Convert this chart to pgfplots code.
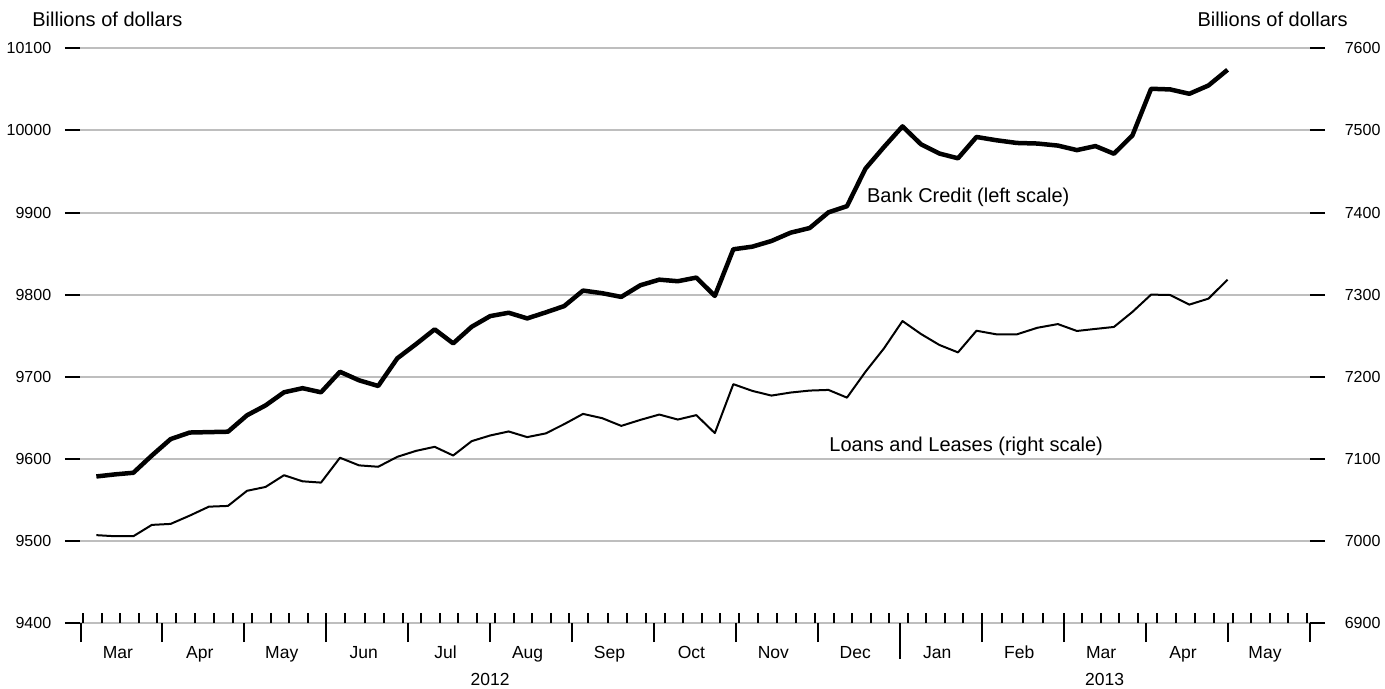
\documentclass[border=0pt]{standalone}
\usepackage{pgfplots}
\pgfplotsset{compat=1.18}
\usepackage{fontspec}
\setmainfont{Liberation Sans}
\definecolor{gridgray}{RGB}{190,190,190}
\begin{document}
\begin{tikzpicture}
\useasboundingbox (-40.25bp,-33bp) rectangle (652.25bp,311.5bp);
\pgfplotsset{base/.style={at={(0,0)},anchor=south west,scale only axis,
  width=614.5bp,height=287.35bp,xmin=0,xmax=15,
  axis line style={draw=none},tick style={black,line width=1bp},
  scaled ticks=false,
  /pgf/number format/assume math mode=true,/pgf/number format/1000 sep={},
  tick label style={font=\fontsize{8bp}{9.6bp}\selectfont}}}
% Bank Credit, left scale
\begin{axis}[base,ymin=9400,ymax=10100,ytick={9400,9500,...,10100},
  ytick pos=left,yticklabel pos=left,xtick=\empty,tick align=outside,
  major tick length=7.85bp,ymajorgrids,
  grid style={draw=gridgray,line width=1bp},
  yticklabel style={xshift=-3.3bp}]
\addplot[black,line width=2.25bp,line join=round] table[row sep=\\] {
x y\\
0.1935 9578.5\\ 0.4194 9581\\ 0.6452 9583\\ 0.8710 9604\\
1.1 9624\\ 1.3333 9632\\ 1.5667 9632.5\\ 1.8 9633\\
2.0323 9653\\ 2.2581 9665\\ 2.4839 9681\\ 2.7097 9686\\ 2.9355 9681\\
3.1667 9706\\ 3.4 9695.6\\ 3.6333 9688.7\\ 3.8667 9722.4\\
4.0968 9739.8\\ 4.3226 9757.7\\ 4.5484 9740.6\\ 4.7742 9760.8\\
5.0 9773.8\\ 5.2258 9777.9\\ 5.4516 9771\\ 5.6774 9778.3\\ 5.9032 9786\\
6.1333 9804.9\\ 6.3667 9801.7\\ 6.6 9797.2\\ 6.8333 9811.4\\
7.0645 9818.2\\ 7.2903 9816.3\\ 7.5161 9820.7\\ 7.7419 9798.4\\ 7.9677 9855.2\\
8.2 9858.4\\ 8.4333 9865.3\\ 8.6667 9875.4\\ 8.9 9881.1\\
9.1290 9900.2\\ 9.3548 9907.7\\ 9.5806 9953.5\\ 9.8065 9979.8\\
10.0323 10004.9\\ 10.2581 9983.1\\ 10.4839 9971.8\\ 10.7097 9966\\ 10.9355 9992\\
11.1786 9988\\ 11.4286 9984.7\\ 11.6786 9984\\ 11.9286 9981.5\\
12.1613 9976\\ 12.3871 9980.9\\ 12.6129 9971.6\\ 12.8387 9993.9\\
13.0667 10050.7\\ 13.3 10049.9\\ 13.5333 10044.6\\ 13.7667 10054.7\\
14.0 10073.8\\
};
\node[anchor=base west,font=\fontsize{10bp}{12bp}\selectfont,inner sep=0pt] at (axis cs:9.596,9912.3) {Bank Credit (left scale)};
\end{axis}
% Loans and Leases, right scale
\begin{axis}[base,ymin=6900,ymax=7600,ytick={6900,7000,...,7600},
  ytick pos=right,yticklabel pos=right,xtick=\empty,tick align=outside,
  major tick length=7.85bp,yticklabel style={xshift=6.3bp}]
\addplot[black,line width=1bp,line join=round] table[row sep=\\] {
x y\\
0.1935 7007\\ 0.4194 7005.7\\ 0.6452 7005.7\\ 0.8710 7019.5\\
1.1 7020.7\\ 1.3333 7030.8\\ 1.5667 7041.7\\ 1.8 7042.6\\
2.0323 7061\\ 2.2581 7065.7\\ 2.4839 7080\\ 2.7097 7072.6\\ 2.9355 7071\\
3.1667 7101.3\\ 3.4 7092\\ 3.6333 7090.3\\ 3.8667 7102.4\\
4.0968 7109.7\\ 4.3226 7114.6\\ 4.5484 7104\\ 4.7742 7121.5\\
5.0 7128.4\\ 5.2258 7133.3\\ 5.4516 7126.4\\ 5.6774 7130.9\\ 5.9032 7142.2\\
6.1333 7154.7\\ 6.3667 7149.5\\ 6.6 7140.1\\ 6.8333 7147.4\\
7.0645 7153.9\\ 7.2903 7147.8\\ 7.5161 7153.2\\ 7.7419 7131.3\\ 7.9677 7190.9\\
8.2 7182.7\\ 8.4333 7177\\ 8.6667 7180.7\\ 8.9 7183.1\\
9.1290 7183.9\\ 9.3548 7174.5\\ 9.5806 7206\\ 9.8065 7234.5\\
10.0323 7267.8\\ 10.2581 7252\\ 10.4839 7238.6\\ 10.7097 7229.6\\ 10.9355 7256\\
11.1786 7251.6\\ 11.4286 7251.6\\ 11.6786 7259.6\\ 11.9286 7264.1\\
12.1613 7255.7\\ 12.3871 7258.2\\ 12.6129 7260.6\\ 12.8387 7278.9\\
13.0667 7300\\ 13.3 7299.5\\ 13.5333 7287.8\\ 13.7667 7295.1\\
14.0 7318.2\\
};
\node[anchor=base west,font=\fontsize{10bp}{12bp}\selectfont,inner sep=0pt] at (axis cs:9.136,7108.5) {Loans and Leases (right scale)};
\end{axis}
% month boundaries and month labels
\begin{axis}[base,ymin=0,ymax=1,ytick=\empty,clip=false,
  xtick={0,1,...,15},xtick pos=left,xticklabel pos=left,tick align=outside,
  major tick length=9.5bp,
  xticklabels={Mar,Apr,May,Jun,Jul,Aug,Sep,Oct,Nov,Dec,Jan,Feb,Mar,Apr,May,{}},
  xticklabel style={xshift=18.7bp,yshift=1.75bp,text height=6.5bp,text depth=1.8bp,
    font=\fontsize{8.75bp}{10.5bp}\selectfont}]
\node[anchor=base,font=\fontsize{8.75bp}{10.5bp}\selectfont] at ([yshift=-31bp]axis cs:5,0) {2012};
\node[anchor=base,font=\fontsize{8.75bp}{10.5bp}\selectfont] at ([yshift=-31bp]axis cs:12.5,0) {2013};
\end{axis}
% year boundary
\begin{axis}[base,ymin=0,ymax=1,ytick=\empty,xtick={10},xtick pos=left,
  tick align=outside,major tick length=18bp,xticklabels={}]
\end{axis}
% weekly (Friday) ticks
\begin{axis}[base,ymin=0,ymax=1,ytick=\empty,xtick pos=left,
  tick align=inside,major tick length=4.75bp,xticklabels={},
  xtick={0.0323,0.2581,0.4839,0.7097,0.9355,
  1.1667,1.4,1.6333,1.8667,
  2.0968,2.3226,2.5484,2.7742,
  3.0,3.2333,3.4667,3.7,3.9333,
  4.1613,4.3871,4.6129,4.8387,
  5.0645,5.2903,5.5161,5.7419,5.9677,
  6.2,6.4333,6.6667,6.9,
  7.1290,7.3548,7.5806,7.8065,
  8.0333,8.2667,8.5,8.7333,8.9667,
  9.1935,9.4194,9.6452,9.8710,
  10.0968,10.3226,10.5484,10.7742,
  11.0,11.25,11.5,11.75,
  12.0,12.2258,12.4516,12.6774,12.9032,
  13.1333,13.3667,13.6,13.8333,
  14.0645,14.2903,14.5161,14.7419,14.9677}]
\end{axis}
% axis titles
\node[anchor=base west,font=\fontsize{10bp}{12bp}\selectfont,inner sep=0pt] at (-24.25bp,298bp) {Billions of dollars};
\node[anchor=base east,font=\fontsize{10bp}{12bp}\selectfont,inner sep=0pt] at (633.75bp,298bp) {Billions of dollars};
\end{tikzpicture}
\end{document}
